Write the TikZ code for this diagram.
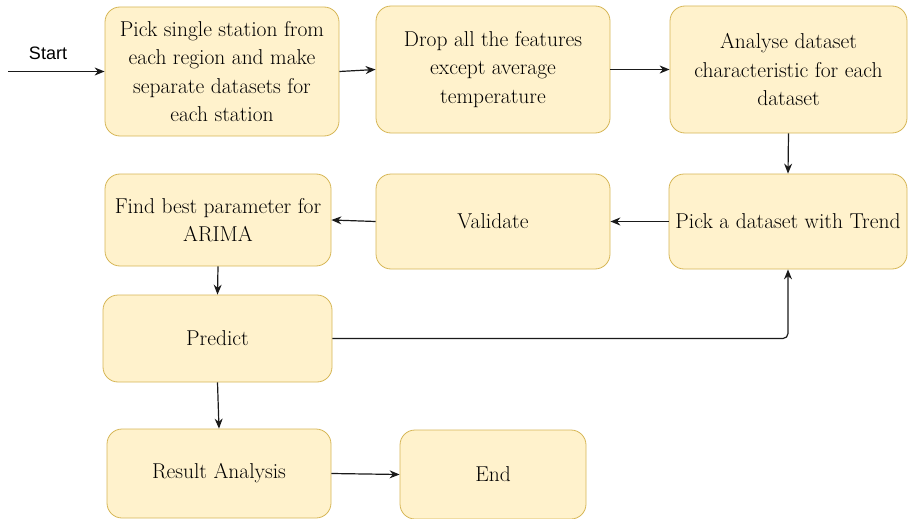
\documentclass[tikz,border=0pt]{standalone}
\usepackage{fontspec}
\newfontfamily\labelfont{Liberation Sans}
\usetikzlibrary{arrows.meta}
\definecolor{boxfill}{HTML}{FFF2CC}
\definecolor{boxline}{HTML}{D6B656}
\definecolor{ink}{HTML}{000000}
\definecolor{wire}{HTML}{1A1A1A}
\begin{document}
\begin{tikzpicture}[x=1pt,y=-1pt,
  stepbox/.style={draw=boxline, fill=boxfill, line width=0.8pt, rounded corners=15pt,
    align=center, text=ink, inner sep=0pt,
    font=\fontsize{21.5}{28.5}\selectfont},
  flow/.style={draw=wire, line width=1.2pt, -{Stealth[length=10pt,width=8pt]}}]
\useasboundingbox (0,0) rectangle (911,519);

% process boxes
\node[stepbox, minimum width=234pt, minimum height=129pt] (b1) at (222,71.5)
  {Pick single station from\\each region and make\\separate datasets for\\each station};
\node[stepbox, minimum width=234pt, minimum height=127pt] (b2) at (493,69.5)
  {Drop all the features\\except average\\temperature};
\node[stepbox, minimum width=237pt, minimum height=127pt] (b3) at (788.5,69.5)
  {Analyse dataset\\characteristic for each\\dataset};
\node[stepbox, minimum width=238pt, minimum height=95pt] (b4) at (788,221.5)
  {Pick a dataset with Trend};
\node[stepbox, minimum width=234pt, minimum height=95pt] (b5) at (493,221.5)
  {Validate};
\node[stepbox, minimum width=226pt, minimum height=92pt] (b6) at (218,220)
  {Find best parameter for\\ARIMA};
\node[stepbox, minimum width=229pt, minimum height=87pt] (b7) at (217.5,338.5)
  {Predict};
\node[stepbox, minimum width=224pt, minimum height=89pt] (b8) at (219,473.5)
  {Result Analysis};
\node[stepbox, minimum width=186pt, minimum height=89pt] (b9) at (493,474.5)
  {End};

% entry arrow
\coordinate (s) at (8,71.5);
\node[font=\labelfont\fontsize{18}{20}\selectfont, text=ink] (startlbl) at (48,53) {Start};
\draw[flow] (s) -- (b1.west);

% connectors
\draw[flow] (b1.east) -- (b2.west);
\draw[flow] (b2.east) -- (b3.west);
\draw[flow] (b3.south) -- (b4.north);
\draw[flow] (b4.west) -- (b5.east);
\draw[flow] (b5.west) -- (b6.east);
\draw[flow] (b6.south) -- (b7.north);
\draw[flow, rounded corners=5pt] (b7.east) -| (b4.south);
\draw[flow] (b7.south) -- (b8.north);
\draw[flow] (b8.east) -- (b9.west);
\end{tikzpicture}
\end{document}
